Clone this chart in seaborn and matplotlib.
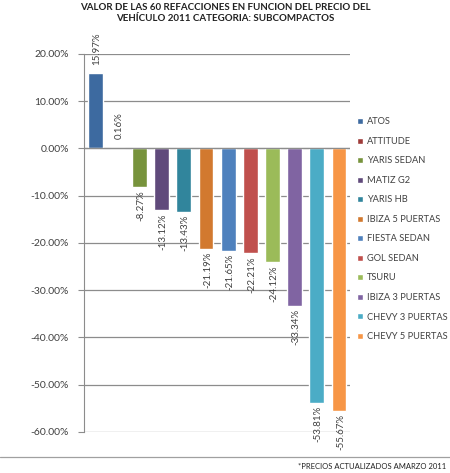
import pandas as pd
import matplotlib.pyplot as plt
import seaborn as sns

sns.set_style('white')
plt.rcParams['font.family'] = ['Lato', 'DejaVu Sans']

# data
cars = ['ATOS', 'ATTITUDE', 'YARIS SEDAN', 'MATIZ G2', 'YARIS HB', 'IBIZA 5 PUERTAS',
        'FIESTA SEDAN', 'GOL SEDAN', 'TSURU', 'IBIZA 3 PUERTAS', 'CHEVY 3 PUERTAS',
        'CHEVY 5 PUERTAS']
values = [15.97, 0.16, -8.27, -13.12, -13.43, -21.19, -21.65, -22.21, -24.12, -33.34,
          -53.81, -55.67]
colors = ['#3d6aa0', '#9e3b39', '#77933c', '#604a7b', '#31859c', '#d2792f',
          '#4f81bd', '#c0504d', '#9bbb59', '#8064a2', '#4bacc6', '#f79646']
yticks = [20, 10, 0, -10, -20, -30, -40, -50, -60]

df = pd.DataFrame({'car': cars, 'value': values})

fig = plt.figure(figsize=(4.5, 4.73), dpi=100)
ax = fig.add_axes([0.187, 0.087, 0.591, 0.799])

sns.barplot(data=df, x='car', y='value', hue='car', palette=colors, dodge=False,
            width=0.67, legend=True, ax=ax, saturation=1)

ax.set_ylim(-60, 20)
ax.set_yticks(yticks)
ax.set_yticklabels([f'{v:.2f}%' for v in yticks], fontsize=7.5, color='#404040')
ax.set_xticks([])
ax.set_xlabel('')
ax.set_ylabel('')
ax.set_xlim(-0.5, len(cars) - 0.5)
ax.grid(axis='y', color='#8c8c8c', linewidth=0.9)
ax.set_axisbelow(True)
ax.axhline(0, color='#8c8c8c', linewidth=0.9, zorder=1)
for s in ['top', 'right', 'bottom']:
    ax.spines[s].set_visible(False)
ax.spines['left'].set_color('#8c8c8c')
ax.tick_params(axis='y', direction='out', length=4, color='#8c8c8c', pad=7, left=True)

# data labels
for i, v in enumerate(values):
    if v >= 0:
        ax.annotate(f'{v:.2f}%', (i, v), xytext=(1, 6), textcoords='offset points',
                    rotation=90, ha='center', va='bottom', fontsize=7, color='#404040')
    else:
        ax.annotate(f'{v:.2f}%', (i, v), xytext=(1, -2), textcoords='offset points',
                    rotation=90, ha='center', va='top', fontsize=7, color='#404040')

ax.legend(loc='upper left', bbox_to_anchor=(0.775, 1 - 109 / 473),
          bbox_transform=fig.transFigure, frameon=False, fontsize=6.7,
          handlelength=0.65, handleheight=0.65, handletextpad=0.4, labelspacing=1.13,
          labelcolor='#404040')

fig.text(0.5, 1 - 13 / 473, 'VALOR DE LAS 60 REFACCIONES EN FUNCION DEL PRECIO DEL\n'
         'VEHÍCULO 2011 CATEGORIA: SUBCOMPACTOS', ha='center', va='center',
         fontsize=7, fontweight='bold', color='#222222', linespacing=1.3)

fig.add_artist(plt.Line2D([0, 1], [1 - 457 / 473] * 2, color='#a0a0a0', linewidth=0.9))
fig.text(446 / 450, 1 - 466 / 473, '*PRECIOS ACTUALIZADOS AMARZO 2011', ha='right',
         va='center', fontsize=5.5, color='#222222')

fig.savefig('out.png', dpi=100)
